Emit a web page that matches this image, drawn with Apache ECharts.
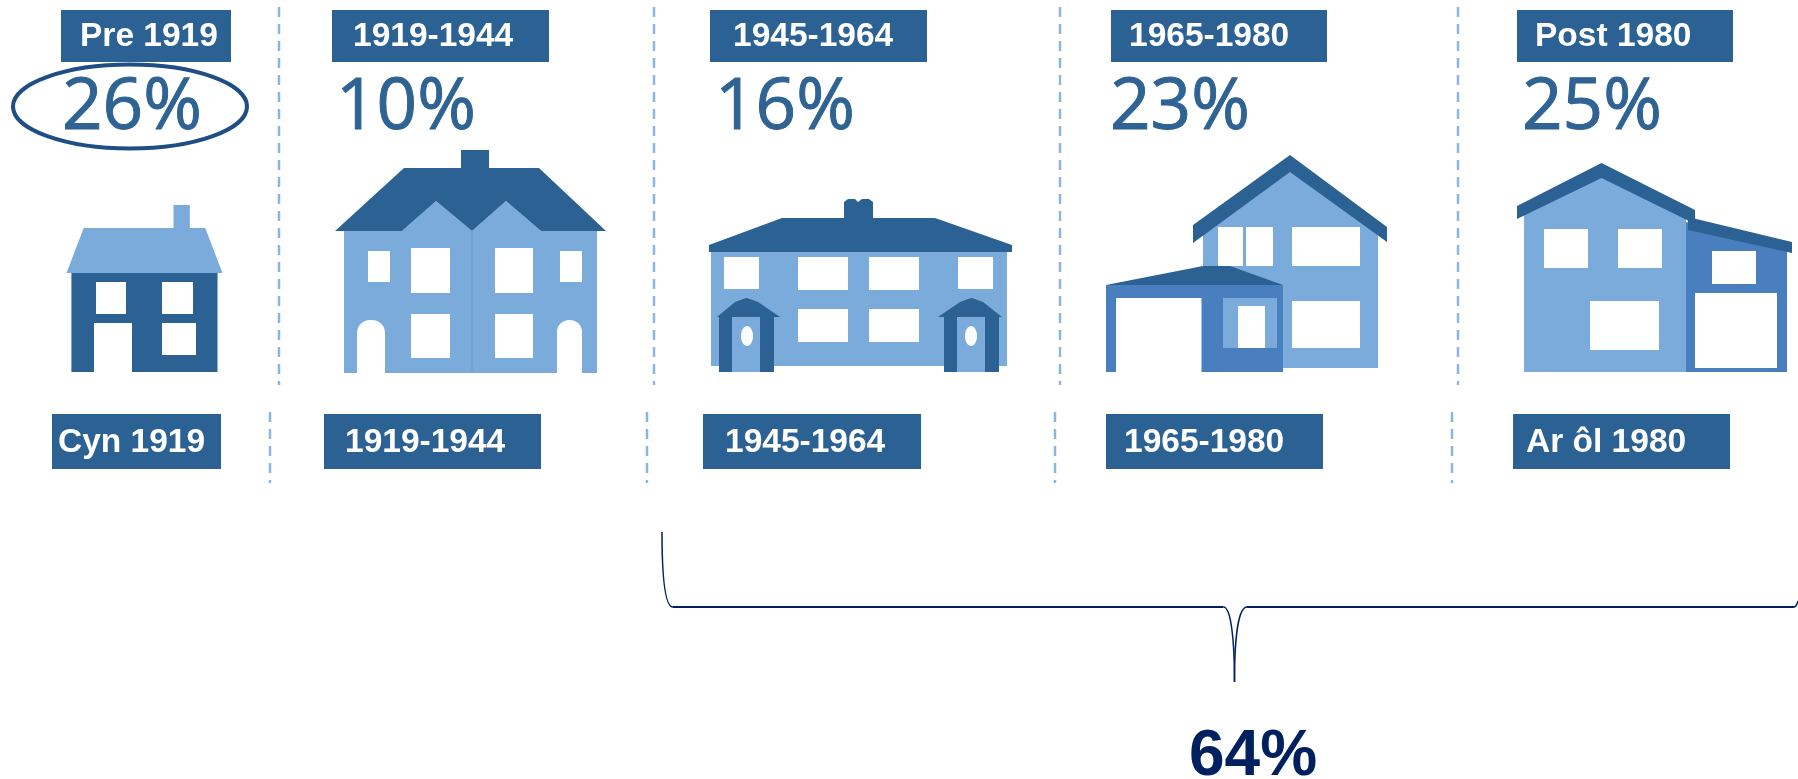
<!DOCTYPE html>
<html>
<head>
<meta charset="utf-8">
<style>html,body{margin:0;padding:0;background:#fff}#c{width:1798px;height:779px}</style>
<script src="https://cdn.jsdelivr.net/npm/echarts@6/dist/echarts.min.js"></script>
</head>
<body>
<div id="c"></div>
<script>
// ---- data ----
const periods = ['Pre 1919', '1919-1944', '1945-1964', '1965-1980', 'Post 1980'];
const periodsWelsh = ['Cyn 1919', '1919-1944', '1945-1964', '1965-1980', 'Ar ôl 1980'];
const sharePercent = [26, 10, 16, 23, 25];
const bracketTotal = 64;

// ---- layout (axis units are canvas pixels) ----
const DARK = '#2c6193', LIGHT = '#7aabdb', MID = '#4a7fbf', WHITE = '#ffffff', NAVY = '#002060', DASH = '#8ab6e0';
const topBoxes = [[61, 231], [332, 549], [710, 927], [1111, 1327], [1517, 1733]];
const bottomBoxes = [[52, 221], [324, 541], [703, 921], [1106, 1323], [1513, 1730]];
const topTextX = [80, 353, 733, 1129, 1535];
const bottomTextX = [58, 345, 725, 1124, 1526];
const pctX = [62, 336, 715, 1110, 1522];
const upperDashX = [279, 654, 1060, 1458];
const lowerDashX = [270, 647, 1055, 1452];

// ---- house icons: [kind, ...geometry, fill] ----
const porch = (x0, x1, d0, d1, ox, rx0, rx1) => [
  ['poly', [[rx0, 317], [x0 + 16, 302], [x0 + 27, 298], [x1 - 27, 298], [x1 - 16, 302], [rx1, 317]], DARK],
  ['rect', x0, 316, x1, 372, DARK],
  ['rect', d0, 317, d1, 372, LIGHT],
  ['oval', ox, 336, 6, 10, WHITE]
];
const houses = [
  [
    ['poly', [[66.5, 273], [83.7, 228], [173.5, 228], [173.5, 205], [189.8, 205], [189.8, 228], [205.3, 228], [222.4, 273]], LIGHT],
    ['rect', 71.4, 273, 217.5, 372, DARK],
    ['rect', 96, 282, 126, 314, WHITE], ['rect', 162, 282, 193, 314, WHITE],
    ['rect', 162, 323, 196, 355, WHITE], ['rect', 94, 323, 132, 372, WHITE]
  ],
  [
    ['rect', 344, 231, 597, 373, LIGHT],
    ['poly', [[402, 231], [436, 201], [472, 231], [506, 201], [541, 231]], LIGHT],
    ['poly', [[335, 231], [404, 168], [461, 168], [461, 150], [489, 150], [489, 168], [539, 168], [606, 231], [541, 231], [506, 201], [472, 231], [436, 201], [402, 231]], DARK],
    ['rect', 471.5, 231, 472.5, 373, '#6f9fd0'],
    ['rect', 368, 251, 390, 282, WHITE], ['rect', 411, 248, 450, 293, WHITE],
    ['rect', 495, 248, 533, 293, WHITE], ['rect', 560, 251, 582, 282, WHITE],
    ['rect', 411, 314, 450, 358, WHITE], ['rect', 495, 314, 533, 358, WHITE],
    ['arch', 357, 320, 385, 374, 13], ['arch', 557, 320, 582, 374, 12]
  ],
  [
    ['rect', 711, 250, 1007, 366, LIGHT],
    ['poly', [[709, 245], [782, 218], [844, 218], [844, 202], [848, 199], [855, 199], [858, 202], [862, 199], [869, 199], [873, 202], [873, 218], [935, 218], [1012, 245], [1012, 252], [709, 252]], DARK],
    ['rect', 724, 257, 759, 289, WHITE], ['rect', 798, 257, 848, 290, WHITE],
    ['rect', 869, 257, 919, 290, WHITE], ['rect', 958, 257, 993, 289, WHITE],
    ['rect', 798, 309, 848, 342, WHITE], ['rect', 869, 309, 919, 342, WHITE],
    ...porch(719, 774, 732, 760, 747, 717, 780),
    ...porch(944, 999, 957, 985, 971, 938, 1002)
  ],
  [
    ['poly', [[1203, 232], [1290, 168], [1378, 232], [1378, 368], [1203, 368]], LIGHT],
    ['poly', [[1193, 225], [1290, 155], [1387, 227], [1387, 242], [1290, 172], [1193, 243]], DARK],
    ['rect', 1218, 227, 1243, 266, WHITE], ['rect', 1246, 227, 1273, 266, WHITE],
    ['rect', 1292, 227, 1360, 266, WHITE], ['rect', 1292, 301, 1360, 348, WHITE],
    ['poly', [[1106, 285], [1203, 266], [1230, 266], [1283, 285]], DARK],
    ['rect', 1106, 285, 1283, 298, MID],
    ['rect', 1106, 285, 1116, 372, MID],
    ['rect', 1201.5, 285, 1283, 372, MID],
    ['rect', 1223, 298, 1277, 348, LIGHT],
    ['rect', 1238, 306, 1265, 348, WHITE]
  ],
  [
    ['poly', [[1686, 222], [1787, 247], [1787, 372], [1686, 372]], MID],
    ['poly', [[1524, 210], [1601.5, 170], [1686, 212], [1686, 372], [1524, 372]], LIGHT],
    ['poly', [[1517, 206], [1601.5, 163], [1695, 210], [1695, 224], [1601.5, 178], [1517, 219]], DARK],
    ['poly', [[1688, 217], [1792, 242], [1792, 253], [1688, 230]], DARK],
    ['rect', 1544, 229, 1588, 268, WHITE], ['rect', 1618, 229, 1662, 268, WHITE],
    ['rect', 1590, 301, 1659, 350, WHITE], ['rect', 1712, 251, 1756, 284, WHITE],
    ['rect', 1695, 293, 1777, 368, WHITE]
  ]
];

const chart = echarts.init(document.getElementById('c'), null, { renderer: 'canvas' });

function periodItem(params, api) {
  const i = api.value(0);
  const xy = (x, y) => api.coord([x, y]);
  const rect = (x0, y0, x1, y1, fill, r) => {
    const a = xy(x0, y0), b = xy(x1, y1);
    return { type: 'rect', shape: { x: a[0], y: a[1], width: b[0] - a[0], height: b[1] - a[1], r: r || 0 }, style: { fill } };
  };
  const text = (x, y, t, font, fill, extra) => {
    const a = xy(x, y);
    return { type: 'text', style: Object.assign({ x: a[0], y: a[1], text: t, font, fill, textAlign: 'left', textVerticalAlign: 'middle' }, extra || {}) };
  };
  const boxFont = 'bold 33.5px "Liberation Sans", Arial, sans-serif';
  const children = [
    rect(topBoxes[i][0], 10, topBoxes[i][1], 62, DARK),
    text(topTextX[i], 37, periods[i], boxFont, WHITE),
    rect(bottomBoxes[i][0], 414, bottomBoxes[i][1], 469, DARK),
    text(bottomTextX[i], 443, periodsWelsh[i], boxFont, WHITE),
    text(pctX[i], 109, sharePercent[i] + '%', '400 71px "Open Sans", sans-serif', '#2e6394', { stroke: '#2e6394', lineWidth: 1 })
  ];
  houses[i].forEach(s => {
    if (s[0] === 'rect') children.push(rect(s[1], s[2], s[3], s[4], s[5]));
    if (s[0] === 'poly') children.push({ type: 'polygon', shape: { points: s[1].map(p => xy(p[0], p[1])) }, style: { fill: s[2] } });
    if (s[0] === 'arch') children.push(rect(s[1], s[2], s[3], s[4], WHITE, [s[5], s[5], 0, 0]));
    if (s[0] === 'oval') { const c = xy(s[1], s[2]); children.push({ type: 'ellipse', shape: { cx: c[0], cy: c[1], rx: s[3], ry: s[4] }, style: { fill: s[5] } }); }
  });
  return { type: 'group', children };
}

function annotationItem(params, api) {
  const xy = (x, y) => api.coord([x, y]);
  const dash = (x, y0, y1) => {
    const a = xy(x, y0), b = xy(x, y1);
    return { type: 'line', shape: { x1: a[0], y1: a[1], x2: b[0], y2: b[1] }, style: { stroke: DASH, lineWidth: 2.5, lineDash: [10, 7], fill: null } };
  };
  const curve = (p0, c1, c2, p1, lw) => {
    const a = xy(...p0), b = xy(...c1), c = xy(...c2), d = xy(...p1);
    return { type: 'bezierCurve', shape: { x1: a[0], y1: a[1], cpx1: b[0], cpy1: b[1], cpx2: c[0], cpy2: c[1], x2: d[0], y2: d[1] }, style: { stroke: NAVY, lineWidth: lw || 1.5, fill: null } };
  };
  const seg = (p0, p1) => {
    const a = xy(...p0), b = xy(...p1);
    return { type: 'line', shape: { x1: a[0], y1: a[1], x2: b[0], y2: b[1] }, style: { stroke: NAVY, lineWidth: 2.2, fill: null } };
  };
  const c = xy(130, 106.5), t = xy(1253, 757);
  return {
    type: 'group',
    children: [
      ...upperDashX.map(x => dash(x, 7, 385)),
      ...lowerDashX.map(x => dash(x, 412, 483)),
      { type: 'ellipse', shape: { cx: c[0], cy: c[1], rx: 117, ry: 42 }, style: { fill: null, stroke: '#1f4e85', lineWidth: 4 } },
      curve([662, 532], [662, 575], [665, 607], [673, 607]),
      seg([673, 607], [1223.5, 607]),
      curve([1223.5, 607], [1231, 607], [1234.5, 640], [1234.5, 682]),
      curve([1234.5, 682], [1234.5, 640], [1238, 607], [1247, 607]),
      seg([1247, 607], [1794, 607]),
      curve([1794, 607], [1796, 607], [1797, 605], [1798, 601]),
      { type: 'text', style: { x: t[0], y: t[1], text: bracketTotal + '%', font: 'bold 64px "Liberation Sans", Arial, sans-serif', fill: NAVY, textAlign: 'center', textVerticalAlign: 'middle' } }
    ]
  };
}

chart.setOption({
  animation: false,
  backgroundColor: '#ffffff',
  grid: { left: 0, right: 0, top: 0, bottom: 0 },
  xAxis: { type: 'value', min: 0, max: 1798, show: false },
  yAxis: { type: 'value', min: 0, max: 779, inverse: true, show: false },
  series: [
    { type: 'custom', name: 'Dwelling age', clip: false, silent: true, renderItem: periodItem, data: periods.map((p, i) => [i]) },
    { type: 'custom', name: 'Annotations', clip: false, silent: true, renderItem: annotationItem, data: [[0]] }
  ]
});
</script>
</body>
</html>
